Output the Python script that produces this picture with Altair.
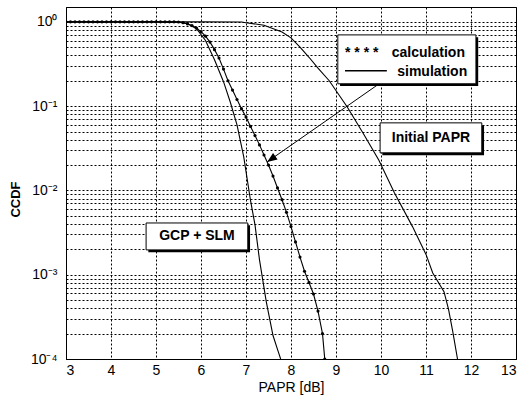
import math
import altair as alt
import pandas as pd

FONT = "Liberation Sans"

# ---- data ----
gcp_x = [3.0, 5.0, 5.5, 5.7, 5.9, 6.1, 6.3, 6.5, 6.65, 6.8, 6.95, 7.1, 7.2, 7.3, 7.45, 7.6, 7.7, 7.77]
gcp_p = [1.0, 1.0, 0.99, 0.955, 0.83, 0.60, 0.355, 0.195, 0.112, 0.060, 0.025, 0.0076, 0.0039, 0.0015,
         0.00048, 0.00019, 0.00013, 0.0001]

calc_x = [3.0, 3.1, 3.2, 3.3, 3.4, 3.5, 3.6, 3.7, 3.8, 3.9, 4.0, 4.1, 4.2, 4.3, 4.4, 4.5, 4.6, 4.7,
          4.8, 4.9, 5.0, 5.1, 5.2, 5.3, 5.4, 5.5, 5.6, 5.7, 5.8, 5.9, 6.0, 6.1, 6.2, 6.3, 6.4, 6.5,
          6.6, 6.7, 6.8, 6.9, 7.0, 7.1, 7.2, 7.3, 7.4, 7.5, 7.6, 7.7, 7.8, 7.9, 8.0, 8.1, 8.2, 8.3,
          8.4, 8.5, 8.6, 8.7, 8.75]
calc_p = [1.0, 1.0, 1.0, 1.0, 1.0, 1.0, 1.0, 1.0, 1.0, 1.0, 1.0, 1.0, 1.0, 1.0, 1.0, 1.0, 1.0, 1.0,
          1.0, 1.0, 1.0, 1.0, 1.0, 1.0, 1.0, 0.995, 0.977, 0.944, 0.902, 0.841, 0.767, 0.676, 0.575,
          0.468, 0.372, 0.275, 0.200, 0.155, 0.120, 0.0933, 0.0741, 0.0575, 0.0447, 0.0347, 0.0263,
          0.0200, 0.0148, 0.0107, 0.00776, 0.00550, 0.00372, 0.00245, 0.00162, 0.00110, 0.00081,
          0.00059, 0.00037, 0.00020, 0.0001]

init_x = [3.0, 6.0, 6.9, 7.0, 7.4, 7.8, 8.0, 8.2, 8.4, 8.6, 8.85, 9.25, 9.6, 9.95, 10.3, 10.7, 11.0,
          11.15, 11.4, 11.5, 11.6, 11.7]
init_p = [1.0, 1.0, 0.997, 0.977, 0.912, 0.759, 0.646, 0.501, 0.380, 0.282, 0.200, 0.0977, 0.0479,
          0.0229, 0.00933, 0.00372, 0.00174, 0.00105, 0.00063, 0.00039, 0.000204, 0.0001]

x_ticks = [3, 4, 5, 6, 7, 8, 9, 10, 11, 12, 13]
decade_values = [1, 0.1, 0.01, 0.001, 0.0001]
decade_labels = ["10⁰", "10⁻¹", "10⁻²", "10⁻³", "10⁻⁴"]
y_grid = [m * d for d in [0.0001, 0.001, 0.01, 0.1] for m in range(1, 10)] + [1]

# annotation texts / positions (data coordinates)
box_labels = ["Initial PAPR", "GCP + SLM"]
box_x = [9.98, 4.78]
box_x2 = [12.24, 7.04]
box_y = [0.0633, 0.00411]
box_y2 = [0.0279, 0.00197]
legend_box = {"x": [9.04], "x2": [12.11], "y": [0.70], "y2": [0.184]}
legend_texts = ["* * * *", "calculation", "simulation"]
legend_tx = [9.2, 10.24, 10.36]
legend_ty = [0.384, 0.384, 0.229]
legend_line_x = [9.2, 10.13]
legend_line_y = [0.262, 0.262]
arrow_x = [10.02, 7.47]
arrow_y = [0.194, 0.0218]

# ---- scales / axes ----
xscale = alt.Scale(domain=[3, 13], nice=False, zero=False)
yscale = alt.Scale(type="log", domain=[0.0001, 1.5], nice=False)

expr = "''"
for v, lab in reversed(list(zip(decade_values, decade_labels))):
    e = round(math.log10(v))
    expr = f"abs(log(datum.value)/LN10 - ({e})) < 0.01 ? '{lab}' : " + expr

xaxis = alt.Axis(values=x_ticks, title="PAPR [dB]", labelPadding=4, titlePadding=3,
                 titleFontWeight="normal", titleFontSize=14, grid=True, ticks=False)
yaxis = alt.Axis(values=y_grid, labelExpr=expr, title="CCDF", labelPadding=9, labelOverlap=False,
                 titleFontWeight="bold", titleFontSize=13, titleX=-51, titleY=192,
                 titleBaseline="middle", grid=True, ticks=False)


def X(field="x"):
    return alt.X(f"{field}:Q", scale=xscale, axis=xaxis)


def Y(field="y"):
    return alt.Y(f"{field}:Q", scale=yscale, axis=yaxis)


init_df = pd.DataFrame({"x": init_x, "y": init_p})
gcp_df = pd.DataFrame({"x": gcp_x, "y": gcp_p})
calc_df = pd.DataFrame({"x": calc_x, "y": calc_p})

init_line = alt.Chart(init_df).mark_line(color="black", strokeWidth=1.1, clip=True).encode(
    x=X(), y=Y(), order="x:Q")
gcp_line = alt.Chart(gcp_df).mark_line(color="black", strokeWidth=1.1, clip=True).encode(
    x=X(), y=Y(), order="x:Q")
calc_line = alt.Chart(calc_df).mark_line(color="black", strokeWidth=1.1, clip=True).encode(
    x=X(), y=Y(), order="x:Q")
calc_dots = alt.Chart(calc_df).mark_circle(color="black", size=10, opacity=1, clip=True).encode(
    x=X(), y=Y())

# boxes with shadows
boxes_df = pd.DataFrame({"label": box_labels, "x": box_x, "x2": box_x2, "y": box_y, "y2": box_y2})
boxes_df["tx"] = (boxes_df["x"] + boxes_df["x2"]) / 2
boxes_df["ty"] = (boxes_df["y"] * boxes_df["y2"]) ** 0.5
boxes_df["sx"] = boxes_df["x"] + 0.05
boxes_df["sx2"] = boxes_df["x2"] + 0.05
boxes_df["sy"] = boxes_df["y"] * 0.94
boxes_df["sy2"] = boxes_df["y2"] * 0.94

lg_df = pd.DataFrame(legend_box)
lg_df["sx"] = lg_df["x"] + 0.05
lg_df["sx2"] = lg_df["x2"] + 0.05
lg_df["sy"] = lg_df["y"] * 0.94
lg_df["sy2"] = lg_df["y2"] * 0.94
allbox = pd.concat([boxes_df[["x", "x2", "y", "y2", "sx", "sx2", "sy", "sy2"]], lg_df], ignore_index=True)

shadows = alt.Chart(allbox).mark_rect(color="black").encode(
    x=X("sx"), x2="sx2:Q", y=Y("sy"), y2="sy2:Q")
rects = alt.Chart(allbox).mark_rect(fill="white", stroke="black", strokeWidth=1).encode(
    x=X("x"), x2="x2:Q", y=Y("y"), y2="y2:Q")
box_text = alt.Chart(boxes_df).mark_text(font=FONT, fontSize=14, fontWeight="bold", color="black",
                                         align="center", baseline="middle").encode(
    x=X("tx"), y=Y("ty"), text="label:N")

leg_df = pd.DataFrame({"x": legend_tx, "y": legend_ty, "t": legend_texts})
leg_text = alt.Chart(leg_df).mark_text(font=FONT, fontSize=14, fontWeight="bold", color="black",
                                       align="left", baseline="alphabetic").encode(
    x=X(), y=Y(), text="t:N")
leg_line = alt.Chart(pd.DataFrame({"x": legend_line_x, "y": legend_line_y})).mark_line(
    color="black", strokeWidth=1.5).encode(x=X(), y=Y())

arrow_df = pd.DataFrame({"x": arrow_x, "y": arrow_y})
arrow_line = alt.Chart(arrow_df).mark_line(color="black", strokeWidth=1).encode(x=X(), y=Y())
arrow_head = alt.Chart(arrow_df.iloc[[1]]).mark_point(
    shape="M0,0 L-0.4,1 L0.4,1 Z", filled=True, color="black", size=400, angle=235, opacity=1).encode(
    x=X(), y=Y())

chart = alt.layer(
    init_line, gcp_line, calc_line, calc_dots,
    arrow_line, arrow_head,
    shadows, rects, box_text, leg_text, leg_line,
).properties(
    width=450, height=352,
    padding={"left": 66, "top": 7, "right": 8, "bottom": 36},
    autosize=alt.AutoSizeParams(type="none"),
    background="white",
).configure_view(
    stroke="black", strokeWidth=1
).configure_axis(
    domainColor="black", domainWidth=1,
    gridColor="black", gridDash=[2, 2], gridOpacity=1, gridWidth=1,
    labelFont=FONT, labelFontSize=14, labelColor="black",
    titleFont=FONT, titleColor="black",
)

chart.save("out.html", embed_options={"renderer": "svg", "actions": False})
